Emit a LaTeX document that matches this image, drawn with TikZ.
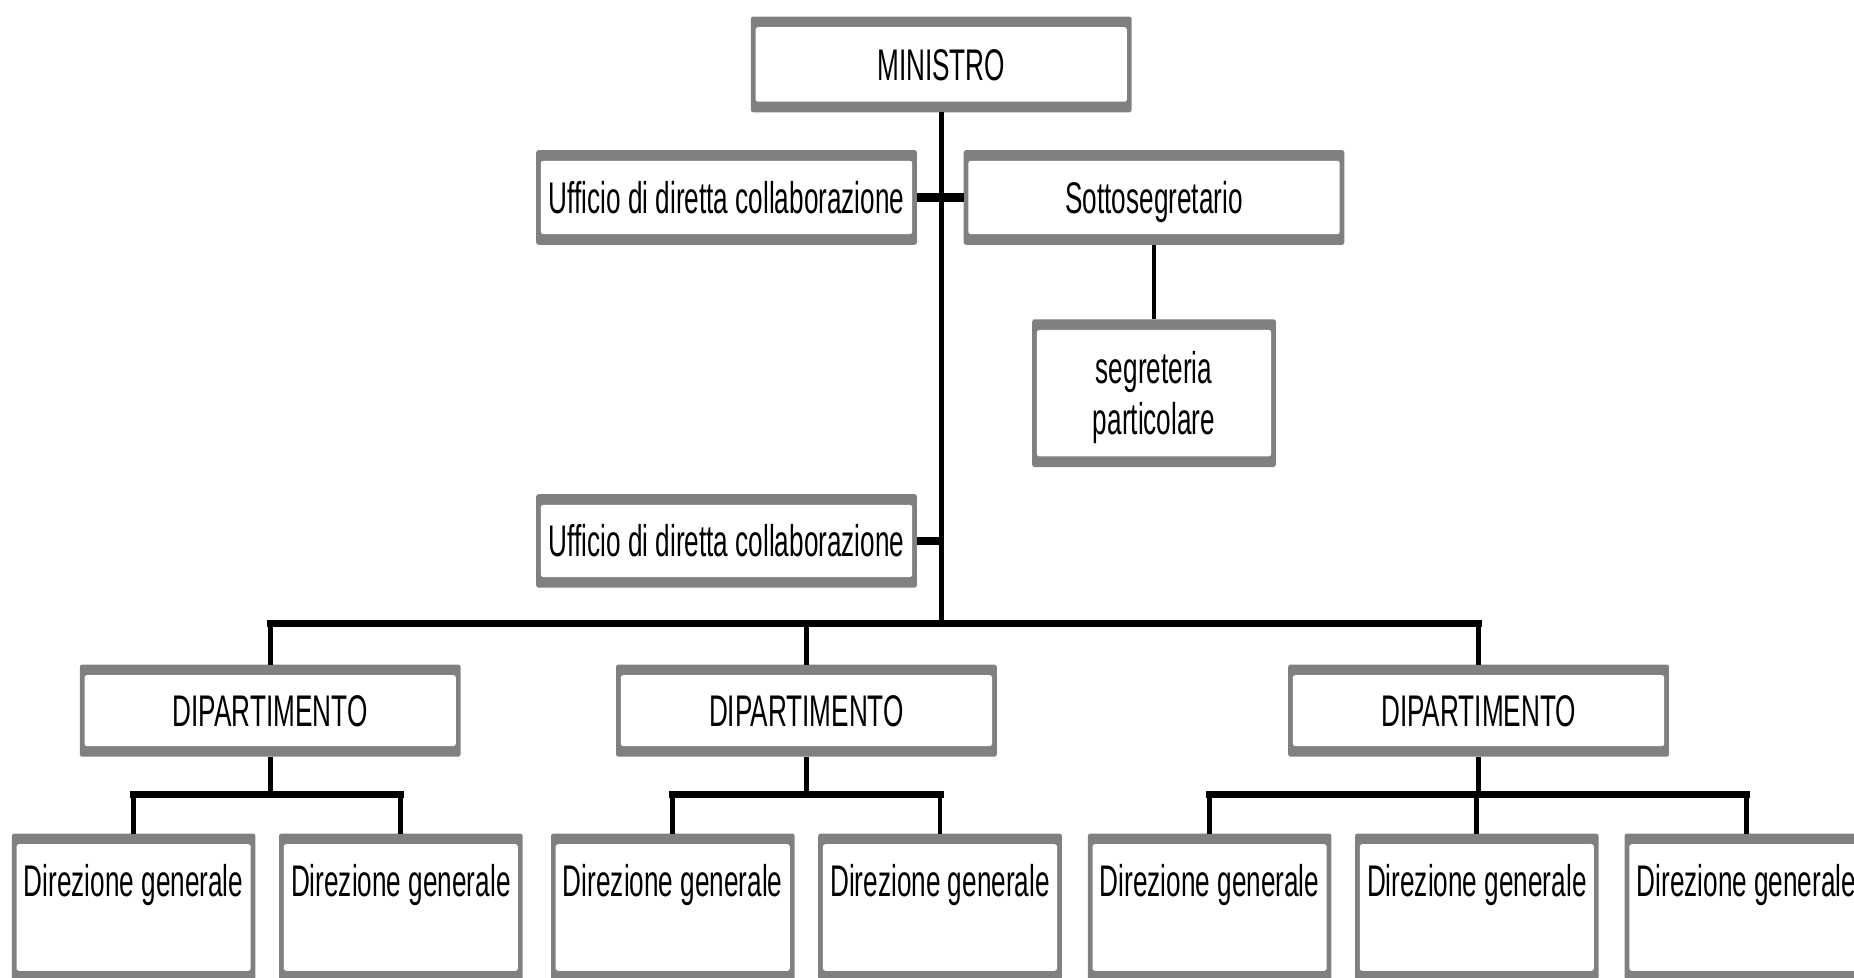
\documentclass[tikz,border=0pt]{standalone}
\usepackage{fontspec}
\setmainfont{Liberation Sans}[FakeStretch=0.59]
\begin{document}
\definecolor{boxgray}{HTML}{808080}
\begin{tikzpicture}[x=1pt,y=-1pt,
  orgbox/.style={rectangle, inner sep=0pt, outer sep=0pt, fill=boxgray,
    rounded corners=2pt, font=\fontsize{37.5}{43}\selectfont, align=center,
    path picture={\fill[white]
      ([xshift=4pt,yshift=-9pt]path picture bounding box.north west) rectangle
      ([xshift=-4pt,yshift=9pt]path picture bounding box.south east);}},
  widebox/.style={orgbox, minimum width=322pt, minimum height=80pt,
    text height=27pt, text depth=0pt},
  dgbox/.style={orgbox, minimum width=206pt, minimum height=125pt,
    text height=20pt, text depth=38pt},
  vline/.style={line width=4pt},
  hline/.style={line width=6pt, line cap=rect},
]
\useasboundingbox (0,0) rectangle (1568,827);

% boxes
\node[widebox, minimum height=81pt] (min) at (796,54.5) {MINISTRO};
\node[widebox] (uff1) at (614.5,167) {Ufficio di diretta collaborazione};
\node[widebox] (sotto) at (976,167) {Sottosegretario};
\node[orgbox, minimum width=206pt, minimum height=125pt] (segr) at (976,332.5)
  {\rule{0pt}{35pt}segreteria\\particolare};
\node[widebox, minimum height=79pt] (uff2) at (614.5,457.5) {Ufficio di diretta collaborazione};

\node[widebox, minimum height=78pt] (dip1) at (228.5,601) {DIPARTIMENTO};
\node[widebox, minimum height=78pt] (dip2) at (682,601) {DIPARTIMENTO};
\node[widebox, minimum height=78pt] (dip3) at (1250.5,601) {DIPARTIMENTO};

\node[dgbox] (dg1) at (113,767.5) {Direzione generale};
\node[dgbox] (dg2) at (339,767.5) {Direzione generale};
\node[dgbox] (dg3) at (569,767.5) {Direzione generale};
\node[dgbox] (dg4) at (795,767.5) {Direzione generale};
\node[dgbox] (dg5) at (1023,767.5) {Direzione generale};
\node[dgbox] (dg6) at (1249,767.5) {Direzione generale};
\node[dgbox] (dg7) at (1477,767.5) {Direzione generale};

% junction points
\coordinate (bus) at (796,527);
\coordinate (b1) at (228.5,672);
\coordinate (b2) at (682,672);
\coordinate (b3) at (1250.5,672);

% main trunk and side offices
\draw[vline] (min.south) -- (bus);
\draw[line width=8pt] (uff1.east) -- (sotto.west);
\draw[line width=7pt] (uff2.east) -- (uff2.east -| bus);
\draw[vline] (sotto.south) -- (segr.north);

% departments
\draw[hline] (dip1.north |- bus) -- (dip3.north |- bus);
\foreach \d in {dip1,dip2,dip3}
  \draw[vline] (\d.north |- bus) -- (\d.north);

% general directorates
\foreach \d/\b in {dip1/b1,dip2/b2,dip3/b3}
  \draw[vline] (\d.south) -- (\b);
\draw[hline] (dg1.north |- b1) -- (dg2.north |- b1);
\draw[hline] (dg3.north |- b2) -- (dg4.north |- b2);
\draw[hline] (dg5.north |- b3) -- (dg7.north |- b3);
\foreach \g/\b in {dg1/b1,dg2/b1,dg3/b2,dg4/b2,dg5/b3,dg6/b3,dg7/b3}
  \draw[vline] (\g.north |- \b) -- (\g.north);
\end{tikzpicture}
\end{document}
